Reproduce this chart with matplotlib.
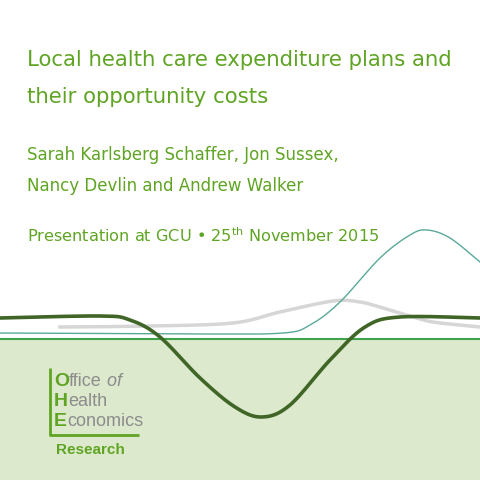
import numpy as np
import matplotlib.pyplot as plt
from matplotlib.patches import Rectangle

# ---- slide text ----
title_lines = ["Local health care expenditure plans and", "their opportunity costs"]
author_lines = ["Sarah Karlsberg Schaffer, Jon Sussex,", "Nancy Devlin and Andrew Walker"]
logo_words = [("O", "ffice", "of"), ("H", "ealth", ""), ("E", "conomics", "")]

# ---- decorative curves (pixel coords) ----
dark_x = [0, 100, 130, 160, 200, 235, 262, 290, 330, 365, 400, 480]
dark_y = [318, 316, 320, 337, 378, 407, 417, 405, 360, 327, 317, 318]
teal_x = [0, 200, 283, 310, 340, 380, 410, 427, 450, 480]
teal_y = [333, 334, 333, 325, 302, 258, 235, 230, 238, 262]
gray_x = [60, 150, 233, 280, 333, 360, 383, 410, 433, 480]
gray_y = [327, 326, 323, 312, 301, 302, 308, 316, 322, 327]

GREEN = "#5fa423"
LINE_GREEN = "#3fa34a"
FILL = "#dde9cd"
GRAY = "#8c8c8c"


def smooth(xs, ys):
    # Catmull-Rom curve through the read points
    xs = np.asarray(xs, float); ys = np.asarray(ys, float)
    px = np.r_[xs[0], xs, xs[-1]]; py = np.r_[ys[0], ys, ys[-1]]
    outx, outy = [], []
    for i in range(1, len(px) - 2):
        t = np.linspace(0, 1, 30)[:, None]
        p0, p1, p2, p3 = [np.array([px[j], py[j]]) for j in (i - 1, i, i + 1, i + 2)]
        pts = 0.5 * ((2 * p1) + (-p0 + p2) * t + (2 * p0 - 5 * p1 + 4 * p2 - p3) * t**2
                     + (-p0 + 3 * p1 - 3 * p2 + p3) * t**3)
        outx.extend(pts[:, 0]); outy.extend(pts[:, 1])
    return outx, outy


fig = plt.figure(figsize=(4.8, 4.8), dpi=100)
ax = fig.add_axes([0, 0, 1, 1])
ax.set_xlim(0, 480); ax.set_ylim(480, 0); ax.axis("off")

ax.add_patch(Rectangle((0, 339), 480, 141, color=FILL, zorder=0))
ax.plot([0, 480], [339, 339], color=LINE_GREEN, lw=1.5, zorder=2)

gx, gy = smooth(gray_x, gray_y)
ax.plot(gx, gy, color="#d6d6d6", lw=2.5, zorder=1)
tx, ty = smooth(teal_x, teal_y)
ax.plot(tx, ty, color="#5aa89a", lw=1.0, zorder=2)
dx, dy = smooth(dark_x, dark_y)
ax.plot(dx, dy, color="#3f6626", lw=2.6, zorder=3)

font = "DejaVu Sans"
for i, s in enumerate(title_lines):
    ax.text(27, 60 + i * 37, s, color=GREEN, fontsize=15.3, family=font, va="center")
for i, s in enumerate(author_lines):
    ax.text(27, 155 + i * 31, s, color=GREEN, fontsize=12, family=font, va="center")
ax.text(27, 236, "Presentation at GCU \u2022 25$^{\\mathrm{th}}$ November 2015",
        color=GREEN, fontsize=11.6, family=font, va="center")

# logo
ax.plot([50, 50, 139], [368, 435, 435], color=GREEN, lw=2, solid_capstyle="butt")
lf = "Liberation Sans"
for i, (cap, rest, ital) in enumerate(logo_words):
    y = 382 + i * 20
    t = ax.text(54, y, cap, color=GREEN, fontsize=14, family=lf, weight="bold", va="center")
    r = ax.annotate(rest, xycoords=t, xy=(1, 0.5), va="center", color=GRAY,
                    fontsize=13, family=lf)
    if ital:
        ax.annotate(" " + ital, xycoords=r, xy=(1, 0.5), va="center", color=GRAY,
                    fontsize=13, family=lf, style="italic")
ax.text(56, 450, "Research", color=GREEN, fontsize=11, family=lf,
        weight="bold", va="center")

fig.savefig("out.png", dpi=100)
